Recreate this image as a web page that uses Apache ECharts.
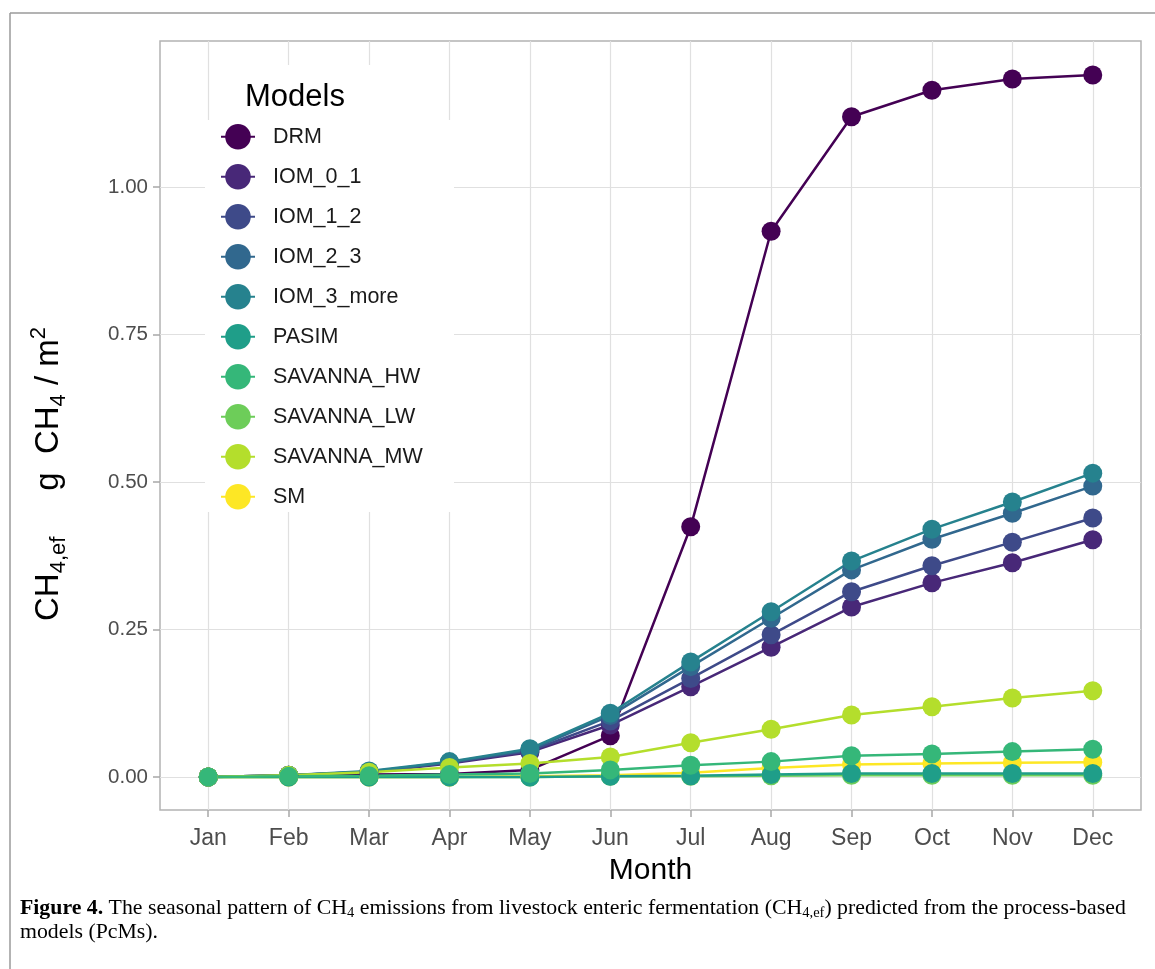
<!DOCTYPE html>
<html lang="en">
<head>
<meta charset="UTF-8" />
<title>CH4 seasonal pattern</title>
<style>
  * { padding: 0; margin: 0; }
  html, body { width: 100%; height: 100%; background: #fff; }
  #main { width: 1155px; height: 969px; }
</style>
</head>
<body>
<div id="main"></div>
<script src="https://cdn.jsdelivr.net/npm/echarts@6/dist/echarts.min.js"></script>
<script>
// months on the x axis
var months = ['Jan', 'Feb', 'Mar', 'Apr', 'May', 'Jun', 'Jul', 'Aug', 'Sep', 'Oct', 'Nov', 'Dec'];
var yTicks = [0, 0.25, 0.5, 0.75, 1.0];
var models = ['DRM', 'IOM_0_1', 'IOM_1_2', 'IOM_2_3', 'IOM_3_more', 'PASIM',
  'SAVANNA_HW', 'SAVANNA_LW', 'SAVANNA_MW', 'SM'];

// values (g CH4/m2)
var DRM        = [0, 0.002, 0.004, 0.005, 0.012, 0.070, 0.424, 0.925, 1.119, 1.164, 1.183, 1.190];
var IOM_0_1    = [0, 0.003, 0.008, 0.023, 0.042, 0.088, 0.153, 0.220, 0.288, 0.329, 0.363, 0.402];
var IOM_1_2    = [0, 0.003, 0.009, 0.024, 0.044, 0.095, 0.167, 0.241, 0.314, 0.358, 0.398, 0.439];
var IOM_2_3    = [0, 0.003, 0.009, 0.025, 0.046, 0.104, 0.187, 0.269, 0.351, 0.403, 0.447, 0.493];
var IOM_3_more = [0, 0.003, 0.010, 0.026, 0.048, 0.108, 0.195, 0.280, 0.366, 0.420, 0.466, 0.515];
var PASIM      = [0, 0, 0, 0, 0, 0.001, 0.002, 0.004, 0.006, 0.006, 0.006, 0.006];
var SAVANNA_HW = [0, 0.001, 0.002, 0.004, 0.006, 0.012, 0.020, 0.026, 0.036, 0.039, 0.043, 0.047];
var SAVANNA_LW = [0, 0, 0, 0, 0, 0.001, 0.001, 0.002, 0.003, 0.003, 0.003, 0.003];
var SAVANNA_MW = [0, 0.003, 0.008, 0.016, 0.023, 0.034, 0.058, 0.081, 0.105, 0.119, 0.134, 0.146];
var SM         = [0, 0, 0, 0, 0.001, 0.003, 0.007, 0.015, 0.021, 0.023, 0.024, 0.025];

var values = {
  DRM: DRM, IOM_0_1: IOM_0_1, IOM_1_2: IOM_1_2, IOM_2_3: IOM_2_3, IOM_3_more: IOM_3_more,
  PASIM: PASIM, SAVANNA_HW: SAVANNA_HW, SAVANNA_LW: SAVANNA_LW, SAVANNA_MW: SAVANNA_MW, SM: SM
};
var colors = {
  DRM: '#440154', IOM_0_1: '#482878', IOM_1_2: '#3e4a89', IOM_2_3: '#31688e', IOM_3_more: '#26828e',
  PASIM: '#1f9e89', SAVANNA_HW: '#35b779', SAVANNA_LW: '#6dcd59', SAVANNA_MW: '#b4de2c', SM: '#fde725'
};
// drawing order (last on top), as seen in the figure
var drawOrder = ['SAVANNA_LW', 'DRM', 'IOM_0_1', 'IOM_1_2', 'IOM_2_3', 'IOM_3_more',
  'SM', 'PASIM', 'SAVANNA_MW', 'SAVANNA_HW'];

var sans = 'Liberation Sans, Arial, sans-serif';
var serif = 'Liberation Serif, Times New Roman, serif';
var idx = months.map(function (m, i) { return i; });

var myChart = echarts.init(document.getElementById('main'));

var series = drawOrder.map(function (name) {
  return {
    name: name,
    type: 'line',
    data: values[name].map(function (v, i) { return [i, v]; }),
    symbol: 'circle',
    symbolSize: 19,
    showSymbol: true,
    color: colors[name],
    itemStyle: { color: colors[name] },
    lineStyle: { color: colors[name], width: 2.5 },
    emphasis: { disabled: true },
    z: 2
  };
});

var option = {
  animation: false,
  backgroundColor: '#fff',
  textStyle: { fontFamily: sans },
  grid: {
    left: 160, right: 14, top: 41, bottom: 159,
    show: true, borderColor: '#b3b3b3', borderWidth: 1.5
  },
  xAxis: {
    type: 'value',
    min: -0.6,
    max: 11.6,
    axisLine: { show: false, onZero: false },
    axisTick: { show: true, customValues: idx, length: 7, lineStyle: { color: '#a8a8a8', width: 1.5 } },
    axisLabel: {
      customValues: idx,
      formatter: function (v) { return months[Math.round(v)]; },
      fontSize: 23, color: '#4d4d4d', margin: 17, fontFamily: sans
    },
    splitLine: { show: true, lineStyle: { color: '#e0e0e0', width: 1.2 } },
    name: 'Month',
    nameLocation: 'middle',
    nameGap: 46,
    nameTextStyle: { fontSize: 30, color: '#000', fontFamily: sans }
  },
  yAxis: {
    type: 'value',
    min: -0.056,
    max: 1.2475,
    axisLine: { show: false, onZero: false },
    axisTick: { show: true, customValues: yTicks, length: 7, lineStyle: { color: '#a8a8a8', width: 1.5 } },
    axisLabel: {
      customValues: yTicks,
      formatter: function (v) { return v.toFixed(2); },
      fontSize: 20.5, color: '#4d4d4d', margin: 12, fontFamily: sans
    },
    splitLine: { show: true, lineStyle: { color: '#e0e0e0', width: 1.2 } }
  },
  legend: {
    orient: 'vertical',
    left: 220,
    top: 124,
    padding: 0,
    itemWidth: 34,
    itemHeight: 32,
    itemGap: 14.4,
    data: models,
    selectedMode: false,
    textStyle: { fontSize: 21.5, color: '#1a1a1a', fontFamily: sans, padding: [0, 0, 0, 13] },
    z: 6
  },
  graphic: [
    // outer frame of the figure
    { type: 'line', z: 1, shape: { x1: 10, y1: 13, x2: 1155, y2: 13 }, style: { stroke: '#9a9a9a', lineWidth: 1.5 } },
    { type: 'line', z: 1, shape: { x1: 10, y1: 13, x2: 10, y2: 969 }, style: { stroke: '#9a9a9a', lineWidth: 1.5 } },
    // legend backgrounds
    { type: 'rect', z: 3, shape: { x: 210, y: 65, width: 237, height: 56 }, style: { fill: '#fff' } },
    { type: 'rect', z: 3, shape: { x: 205, y: 120, width: 249, height: 392 }, style: { fill: '#fff' } },
    {
      type: 'text', z: 4, x: 245, y: 97,
      style: { text: 'Models', font: '31px ' + sans, fill: '#000', textVerticalAlign: 'middle' }
    },
    // y axis title
    {
      type: 'text', z: 4, x: 49, y: 474, rotation: Math.PI / 2,
      style: {
        text: '{n|CH}{s|4,ef}{n|     g  CH}{s|4}{n| / m}{p|2}',
        textAlign: 'center', textVerticalAlign: 'middle',
        rich: {
          n: { fontSize: 33, fontFamily: sans, color: '#000', lineHeight: 42 },
          s: { fontSize: 22, fontFamily: sans, color: '#000', lineHeight: 22, verticalAlign: 'bottom' },
          p: { fontSize: 22, fontFamily: sans, color: '#000', lineHeight: 22, verticalAlign: 'top' }
        }
      }
    },
    // caption
    {
      type: 'text', z: 4, x: 20, y: 897,
      style: {
        text: '{b|Figure 4.}{r| The seasonal pattern of CH}{s|4}{r| emissions from livestock enteric fermentation (CH}{s|4,ef}{r|) predicted from the process-based}\n{r|models (PcMs).}',
        rich: {
          b: { fontSize: 21.8, fontWeight: 'bold', fontFamily: serif, color: '#000', lineHeight: 23.5 },
          r: { fontSize: 21.8, fontFamily: serif, color: '#000', lineHeight: 23.5 },
          s: { fontSize: 14.5, fontFamily: serif, color: '#000', lineHeight: 16, verticalAlign: 'bottom' }
        }
      }
    }
  ],
  series: series
};

myChart.setOption(option);
</script>
</body>
</html>
